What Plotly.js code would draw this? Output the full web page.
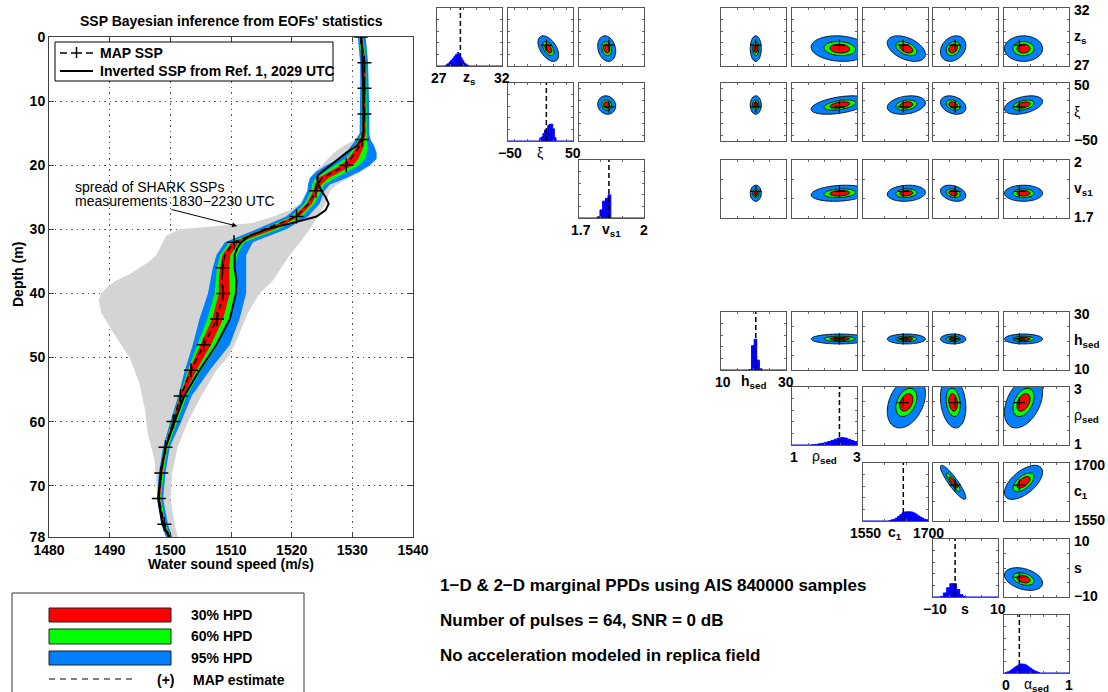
<!DOCTYPE html>
<html><head><meta charset="utf-8">
<script src="https://cdn.plot.ly/plotly-3.0.1.min.js"></script>
<style>html,body{margin:0;padding:0;background:#fff}#chart{width:1108px;height:692px}</style>
</head><body><div id="chart"></div>
<script>
// ================= DATA : SSP panel =================
const depth      = [0,4,8,12,15,16,17,18,19,20,21,22,23,24,26,28,30,32,34,36,38,40,44,48,52,56,60,64,68,72,76,78];
const mapSSP     = [1531.4,1532.0,1532.0,1532.0,1531.9,1531.6,1531.2,1530.5,1529.8,1529.0,1527.0,1525.0,1524.3,1524.0,1522.8,1520.8,1515.5,1510.5,1509.0,1508.6,1508.5,1508.7,1507.7,1505.5,1503.4,1501.7,1500.5,1499.2,1498.5,1498.1,1499.0,1499.9];
const hpd95Left  = [1530.9,1531.3,1531.3,1531.3,1531.2,1530.6,1529.8,1529.0,1527.9,1525.7,1524.1,1523.0,1522.7,1522.6,1521.6,1519.1,1514.2,1509.0,1507.6,1507.0,1506.6,1506.2,1504.8,1503.7,1502.4,1501.3,1500.0,1498.8,1498.1,1497.8,1498.5,1499.3];
const hpd95Right = [1532.2,1532.6,1532.7,1532.8,1532.8,1533.0,1533.6,1534.0,1534.0,1532.9,1531.2,1529.0,1526.3,1525.4,1524.6,1522.7,1519.1,1513.6,1512.5,1512.5,1512.5,1512.5,1511.4,1509.8,1506.5,1503.5,1501.8,1499.9,1499.2,1498.8,1499.6,1500.3];
const hpd60Left  = [1531.1,1531.6,1531.6,1531.6,1531.5,1531.05,1530.4,1529.7,1528.8,1527.2,1525.4,1523.9,1523.4,1523.2,1522.1,1519.9,1515.2,1509.7,1508.2,1507.7,1507.5,1507.3,1506.1,1504.5,1502.85,1501.5,1500.2,1499.0,1498.3,1497.95,1498.65,1499.6];
const hpd60Right = [1531.8,1532.3,1532.4,1532.4,1532.4,1532.4,1532.5,1532.4,1532.1,1531.1,1529.3,1527.2,1525.4,1524.8,1523.8,1521.8,1517.9,1512.2,1511.0,1510.7,1510.8,1510.8,1509.7,1507.9,1505.1,1502.7,1501.2,1499.6,1498.9,1498.5,1499.2,1500.1];
const hpd30Left  = [1531.25,1531.8,1531.8,1531.8,1531.7,1531.3,1530.8,1530.1,1529.3,1528.1,1526.2,1524.4,1523.85,1523.6,1522.5,1520.3,1515.9,1510.1,1508.6,1508.2,1508.0,1508.0,1506.9,1505.0,1503.1,1501.6,1500.35,1499.1,1498.4,1498.0,1498.7,1499.75];
const hpd30Right = [1531.6,1532.2,1532.2,1532.2,1532.2,1532.0,1531.9,1531.5,1531.0,1530.1,1528.2,1526.1,1524.9,1524.4,1523.3,1521.3,1517.2,1511.3,1509.9,1509.7,1509.8,1509.8,1508.7,1506.7,1504.3,1502.2,1500.9,1499.4,1498.7,1498.3,1499.0,1500.0];
const mapMarkDepth = [0,4,8,12,16,20,24,28,32,36,40,44,48,52,56,60,64,68,72,76];
const mapMarkSpeed = [1531.4,1532.0,1532.0,1532.0,1531.6,1529.0,1524.0,1520.8,1510.5,1508.6,1508.7,1507.7,1505.5,1503.4,1501.7,1500.5,1499.2,1498.5,1498.1,1499.0];
const invDepth = [0,4,8,12,15.5,16,17,18,19,20,21,21.5,22,23,24,25,26,27,28,29,30,31,32,33,34,36,38,40,44,48,52,56,60,64,68,72,76,78];
const invSpeed = [1531.5,1531.7,1531.8,1531.8,1531.8,1531.4,1530.7,1529.1,1527.7,1526.4,1525.1,1524.4,1524.2,1524.4,1524.9,1525.6,1526.1,1525.6,1524.1,1520.2,1515.8,1513.1,1511.7,1511.0,1510.6,1510.6,1510.9,1510.8,1509.8,1507.6,1504.8,1502.3,1500.7,1499.2,1498.4,1498.0,1498.7,1499.8];
const grayLeftDepth = [15.5,16,17,18,19,20,21,22,24,26,27,28,29,29.5,30,31,32,33,34,35,36,37,38,39,40,41,43,46,50,54,58,62,66,70,74,78];
const grayLeftSpeed = [1531.8,1530.5,1528.5,1527.0,1526.0,1525.0,1523.8,1523.0,1522.6,1521.3,1519.7,1517.0,1513.6,1507.0,1501.5,1499.3,1498.8,1498.2,1497.7,1496.6,1494.9,1493.3,1491.1,1489.6,1488.6,1488.2,1488.6,1490.5,1493.3,1494.9,1495.8,1496.3,1497.4,1497.7,1498.2,1499.3];
const grayRightDepth = [15.5,17,19,20,21,22,23,24,26,28,30,32,34,36,38,40,43,48,50,52,56,60,64,68,72,76,78];
const grayRightSpeed = [1532.3,1533.0,1533.2,1533.0,1531.5,1529.5,1527.5,1526.3,1525.6,1524.3,1523.0,1521.4,1519.7,1518.3,1516.9,1514.7,1512.8,1510.6,1509.5,1507.6,1505.1,1502.9,1501.2,1500.3,1500.0,1500.7,1501.2];
const speedTicks = [1480,1490,1500,1510,1520,1530,1540];
const depthTicks = [0,10,20,30,40,50,60,70,78];

// ================= DATA : marginal PPDs =================
// order: z_s, xi, v_s1, h_sed, rho_sed, c_1, s, alpha_sed
const paramLo   = [27,-50,1.7,10,1,1550,-10,0];
const paramHi   = [32,50,2,30,3,1700,10,1];
const paramMean = [28.5,12,1.828,20.7,2.47,1650,-3.8,0.30];
const paramSD   = [0.45,6.5,0.017,0.7,0.36,18,1.6,0.12];
const paramMAP  = [28.8,9,1.838,20.7,2.46,1643,-3.2,0.236];
const loLabel   = ['27','\u221250','1.7','10','1','1550','\u221210','0'];
const hiLabel   = ['32','50','2','30','3','1700','10','1'];
const nameLabel = ['<b>z<sub>s</sub></b>','\u03be','<b>v<sub>s1</sub></b>','<b>h<sub>sed</sub></b>','\u03c1<b><sub>sed</sub></b>','<b>c<sub>1</sub></b>','<b>s</b>','\u03b1<b><sub>sed</sub></b>'];
// histograms (bin centres, heights, bin width)
const histX = [
  [27.75,27.875,28.0,28.125,28.25,28.375,28.5,28.625,28.75,28.875,29.0,29.125,29.25,29.375],
  [0,2.5,5,7.5,10,12.5,15,17.5,20,22.5],
  [1.7905,1.803,1.8155,1.828,1.8405],
  [19.0,19.8,20.6,21.4,22.2],
  [1.65,1.75,1.85,1.95,2.05,2.15,2.25,2.35,2.45,2.55,2.65,2.75,2.85,2.95],
  [1612.5,1617.5,1622.5,1627.5,1632.5,1637.5,1642.5,1647.5,1652.5,1657.5,1662.5,1667.5,1672.5,1677.5,1682.5,1687.5,1692.5,1697.5],
  [-7.3,-6.3,-5.3,-4.3,-3.3,-2.3,-1.3,-0.3],
  [0.0375,0.0625,0.0875,0.1125,0.1375,0.1625,0.1875,0.2125,0.2375,0.2625,0.2875,0.3125,0.3375,0.3625,0.3875,0.4125,0.4375,0.4625,0.4875,0.5125,0.5375]
];
const histY = [
  [0.02,0.04,0.07,0.10,0.13,0.17,0.20,0.23,0.20,0.14,0.09,0.05,0.03,0.01],
  [0.05,0.07,0.13,0.19,0.19,0.27,0.29,0.29,0.21,0.06],
  [0.02,0.14,0.29,0.34,0.40],
  [0.01,0.42,0.53,0.17,0.02],
  [0.005,0.01,0.02,0.03,0.045,0.06,0.08,0.10,0.12,0.13,0.12,0.10,0.08,0.06],
  [0.01,0.02,0.03,0.05,0.08,0.11,0.14,0.155,0.16,0.16,0.155,0.14,0.12,0.09,0.07,0.05,0.03,0.02],
  [0.01,0.07,0.16,0.23,0.23,0.13,0.04,0.01],
  [0.01,0.02,0.03,0.05,0.07,0.09,0.11,0.13,0.145,0.155,0.155,0.15,0.14,0.12,0.10,0.08,0.06,0.045,0.03,0.02,0.01]
];
const histW = [0.125,2.5,0.0125,0.8,0.1,5,1.0,0.025];
// correlation coefficients of 2-D marginals
const corrGeoGeo = [[null,-0.5,-0.2],[null,null,-0.1]];           // rows z_s, xi ; cols xi, v_s1
const corrGeoSed = [[0,-0.12,-0.45,0.25,0],[0,0.45,0.25,-0.3,0.4],[0,0.2,0.12,-0.3,0]]; // rows z_s,xi,v_s1 ; cols sediment
const corrSedSed = [[null,0,0,0,0],[null,null,0.35,-0.2,0.4],[null,null,null,-0.9,0.6],[null,null,null,null,-0.35]];
const hpdLevels = [0.95,0.60,0.30];
const hpdColors = ['rgb(0,128,255)','rgb(0,255,0)','rgb(255,0,0)'];

// ================= LAYOUT GEOMETRY =================
const W=1108, H=692;
const X=p=>p/W, Y=p=>1-p/H;
const FONT='Liberation Sans, Arial, Helvetica, sans-serif';
const PW=65, PH=58;
const geoCols=[437,508,579], geoRows=[8,83,160];
const sedCols=[721,792,863,933,1004], sedRows=[312,387,463,539,615];

const data=[];
const ann=[];
const shapes=[];
const layout={
  width:W,height:H,autosize:false,margin:{l:0,r:0,t:0,b:0},
  paper_bgcolor:'white',plot_bgcolor:'white',showlegend:false,
  font:{family:FONT,size:14,color:'black'},
  xaxis:{domain:[X(49),X(413)],range:[1480,1540],tickvals:speedTicks,ticktext:speedTicks.map(String),
    showline:true,mirror:'ticks',linecolor:'#404040',linewidth:1,ticks:'inside',ticklen:5,tickcolor:'#404040',
    showgrid:true,gridcolor:'#555555',griddash:'1.5px,4px',gridwidth:1,zeroline:false,anchor:'y',
    tickfont:{family:FONT,size:14,weight:'bold',color:'black'}},
  yaxis:{domain:[Y(537),Y(37)],range:[78,0],tickvals:depthTicks,ticktext:depthTicks.map(String),
    showline:true,mirror:'ticks',linecolor:'#404040',linewidth:1,ticks:'inside',ticklen:5,tickcolor:'#404040',
    showgrid:true,gridcolor:'#555555',griddash:'1.5px,4px',gridwidth:1,zeroline:false,anchor:'x',
    tickfont:{family:FONT,size:14,weight:'bold',color:'black'}},
  annotations:ann,shapes:shapes
};

// ---------- main SSP traces ----------
const rev=a=>a.slice().reverse();
data.push({type:'scatter',mode:'lines',x:grayLeftSpeed.concat(rev(grayRightSpeed)),y:grayLeftDepth.concat(rev(grayRightDepth)),
  fill:'toself',fillcolor:'rgb(212,212,212)',line:{width:0},hoverinfo:'skip'});
[[hpd95Left,hpd95Right,0],[hpd60Left,hpd60Right,1],[hpd30Left,hpd30Right,2]].forEach(([l,r,k])=>{
  data.push({type:'scatter',mode:'lines',x:l.concat(rev(r)),y:depth.concat(rev(depth)),fill:'toself',
    fillcolor:hpdColors[k],line:{width:0},hoverinfo:'skip'});
});
data.push({type:'scatter',mode:'lines',x:invSpeed,y:invDepth,line:{color:'black',width:2},name:'Inverted SSP from Ref. 1, 2029 UTC'});
data.push({type:'scatter',mode:'lines',x:mapSSP,y:depth,line:{color:'black',width:1.5,dash:'6px,4px'},name:'MAP SSP'});
data.push({type:'scatter',mode:'markers',x:mapMarkSpeed,y:mapMarkDepth,marker:{symbol:'cross-thin',size:10,line:{color:'black',width:1.5}},hoverinfo:'skip'});

// ---------- small panels ----------
const small={showline:true,mirror:'ticks',linecolor:'#555',linewidth:1,ticks:'inside',ticklen:2,tickcolor:'#666',
  nticks:6,showticklabels:false,showgrid:false,zeroline:false,fixedrange:true};
let axN=1;
function addPanel(left,top,xr,yr){
  axN++;
  layout['xaxis'+axN]=Object.assign({},small,{domain:[X(left),X(left+PW)],range:xr,anchor:'y'+axN});
  layout['yaxis'+axN]=Object.assign({},small,{domain:[Y(top+PH),Y(top)],range:yr,anchor:'x'+axN});
  return {x:'x'+axN,y:'y'+axN};
}
function histPanel(k,left,top){
  const ax=addPanel(left,top,[paramLo[k],paramHi[k]],[0,1]);
  const c=histX[k], h=histY[k], w=histW[k];
  const xs=[paramLo[k],c[0]-w].concat(c,[c[c.length-1]+w,paramHi[k]]);
  const ys=[0,0].concat(h,[0,0]);
  data.push({type:'scatter',mode:'lines',x:xs,y:ys,xaxis:ax.x,yaxis:ax.y,line:{shape:'hvh',color:'#0000ff',width:1},
    fill:'tozeroy',fillcolor:'#0000ff',hoverinfo:'skip'});
  data.push({type:'scatter',mode:'lines',x:[paramMAP[k],paramMAP[k]],y:[0,1],xaxis:ax.x,yaxis:ax.y,
    line:{color:'black',width:1.5,dash:'5px,3px'},hoverinfo:'skip'});
  const by=top+PH+12;
  [[loLabel[k],left+2],[nameLabel[k],left+32],[hiLabel[k],left+65]].forEach(([t,x],i)=>{
    ann.push({xref:'paper',yref:'paper',x:X(x),y:Y(by),text:(i===1?t:'<b>'+t+'</b>'),showarrow:false,
      xanchor:'center',yanchor:'middle',font:{family:FONT,size:14,color:'black'}});
  });
}
function pairPanel(kx,ky,r,left,top){
  const ax=addPanel(left,top,[paramLo[kx],paramHi[kx]],[paramLo[ky],paramHi[ky]]);
  const n=51, xs=[], ys=[];
  for(let i=0;i<n;i++){xs.push(paramLo[kx]+(paramHi[kx]-paramLo[kx])*i/(n-1));ys.push(paramLo[ky]+(paramHi[ky]-paramLo[ky])*i/(n-1));}
  const mx=paramMean[kx],my=paramMean[ky],sx=paramSD[kx],sy=paramSD[ky];
  const z=ys.map(y=>xs.map(x=>{const u=(x-mx)/sx,v=(y-my)/sy;return (u*u-2*r*u*v+v*v)/(1-r*r);}));
  hpdLevels.forEach((p,i)=>{
    // constraint contours shade the region that fails the test, so '>' shades the HPD region (z below the level)
    data.push({type:'contour',x:xs,y:ys,z:z,xaxis:ax.x,yaxis:ax.y,showscale:false,hoverinfo:'skip',
      contours:{type:'constraint',operation:'>',value:-2*Math.log(1-p)},
      line:{color:'black',width:0.9,smoothing:1},fillcolor:hpdColors[i]});
  });
  data.push({type:'scatter',mode:'markers',x:[paramMAP[kx]],y:[paramMAP[ky]],xaxis:ax.x,yaxis:ax.y,
    marker:{symbol:'cross-thin',size:8,line:{color:'black',width:1.2}},hoverinfo:'skip'});
}
// geo triangle
for(let i=0;i<3;i++){
  histPanel(i,geoCols[i],geoRows[i]);
  for(let j=i+1;j<3;j++) pairPanel(j,i,corrGeoGeo[i][j],geoCols[j],geoRows[i]);
  for(let k=0;k<5;k++) pairPanel(3+k,i,corrGeoSed[i][k],sedCols[k],geoRows[i]);
}
// sediment triangle
for(let i=0;i<5;i++){
  histPanel(3+i,sedCols[i],sedRows[i]);
  for(let j=i+1;j<5;j++) pairPanel(3+j,3+i,corrSedSed[i][j],sedCols[j],sedRows[i]);
}
// right-hand labels
const rightRows=[[0,geoRows[0]],[1,geoRows[1]],[2,geoRows[2]],[3,sedRows[0]],[4,sedRows[1]],[5,sedRows[2]],[6,sedRows[3]]];
rightRows.forEach(([k,top])=>{
  [[ '<b>'+hiLabel[k]+'</b>',top+2],[nameLabel[k],top+29],['<b>'+loLabel[k]+'</b>',top+57]].forEach(([t,y])=>{
    ann.push({xref:'paper',yref:'paper',x:X(1072),y:Y(y),text:t,showarrow:false,xanchor:'left',yanchor:'middle',
      font:{family:FONT,size:14,color:'black'}});
  });
});

// ---------- texts on main panel ----------
const txt=(x,y,t,opt)=>ann.push(Object.assign({xref:'paper',yref:'paper',x:X(x),y:Y(y),text:t,showarrow:false,
  xanchor:'left',yanchor:'middle',font:{family:FONT,size:14,color:'black'}},opt||{}));
txt(231,21,"<b>SSP Bayesian inference from EOFs' statistics</b>",{xanchor:'center'});
txt(231,564,'<b>Water sound speed (m/s)</b>',{xanchor:'center'});
txt(18,275,'<b>Depth (m)</b>',{xanchor:'center',textangle:-90});
txt(73,187,'spread of SHARK SSPs');
txt(73,201,'measurements 1830\u22122230 UTC');
ann.push({xref:'x',yref:'y',x:1511,y:29.5,ax:-67,ay:-17,text:'',showarrow:true,arrowhead:2,arrowsize:1,arrowwidth:1,arrowcolor:'black',standoff:0});
// legend in main panel
shapes.push({type:'rect',xref:'paper',yref:'paper',x0:X(55),x1:X(333),y0:Y(81),y1:Y(42),line:{color:'black',width:1},fillcolor:'white'});
shapes.push({type:'line',xref:'paper',yref:'paper',x0:X(60),x1:X(67),y0:Y(53),y1:Y(53),line:{color:'black',width:1.5}});
shapes.push({type:'line',xref:'paper',yref:'paper',x0:X(86),x1:X(93),y0:Y(53),y1:Y(53),line:{color:'black',width:1.5}});
shapes.push({type:'line',xref:'paper',yref:'paper',x0:X(71),x1:X(82),y0:Y(53),y1:Y(53),line:{color:'black',width:1.5}});
shapes.push({type:'line',xref:'paper',yref:'paper',x0:X(76.5),x1:X(76.5),y0:Y(58),y1:Y(47),line:{color:'black',width:1.5}});
shapes.push({type:'line',xref:'paper',yref:'paper',x0:X(60),x1:X(93),y0:Y(71),y1:Y(71),line:{color:'black',width:2}});
txt(98,53,'<b>MAP SSP</b>');
txt(98,71,'<b>Inverted SSP from Ref. 1, 2029 UTC</b>');
// HPD legend box
shapes.push({type:'rect',xref:'paper',yref:'paper',x0:X(12),x1:X(304),y0:Y(700),y1:Y(593),line:{color:'#333',width:1},fillcolor:'white'});
[[608,622],[629,644],[651,665]].forEach(([a,b],i)=>{
  shapes.push({type:'rect',xref:'paper',yref:'paper',x0:X(49),x1:X(171),y0:Y(b),y1:Y(a),line:{color:'#222',width:1},fillcolor:hpdColors[2-i]});
});
shapes.push({type:'line',xref:'paper',yref:'paper',x0:X(49),x1:X(134),y0:Y(679),y1:Y(679),line:{color:'black',width:1.2,dash:'6px,5px'}});
txt(189,615,'<b>30% HPD</b>');
txt(189,636,'<b>60% HPD</b>');
txt(189,658,'<b>95% HPD</b>');
txt(166,680,'<b>(+)</b>',{xanchor:'center'});
txt(191,680,'<b>MAP estimate</b>');
// bottom texts
txt(438,585,'<b>1\u2212D &amp; 2\u2212D marginal PPDs using AIS 840000 samples</b>',{font:{family:FONT,size:17,color:'black'}});
txt(438,620,'<b>Number of pulses = 64, SNR = 0 dB</b>',{font:{family:FONT,size:17,color:'black'}});
txt(438,655,'<b>No acceleration modeled in replica field</b>',{font:{family:FONT,size:17,color:'black'}});

Plotly.newPlot('chart',data,layout,{staticPlot:true,displayModeBar:false});
</script></body></html>
